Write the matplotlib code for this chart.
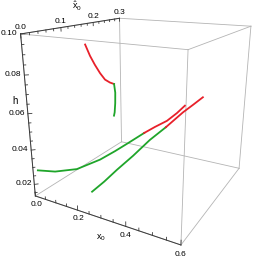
import numpy as np
import matplotlib
matplotlib.use('Agg')
import matplotlib.pyplot as plt

plt.rcParams['font.family'] = ['Liberation Sans', 'DejaVu Sans']
plt.rcParams['mathtext.fontset'] = 'custom'
plt.rcParams['mathtext.rm'] = 'Liberation Sans'
plt.rcParams['mathtext.it'] = 'Liberation Sans:italic'

# axis ranges
x0_lim = (0.0, 0.6)
xh_lim = (0.0, 0.3)
h_lim = (0.013, 0.100)

# curve A (upper, red then green)
a_red_x0 = [0.05, 0.05, 0.05, 0.05, 0.05, 0.05, 0.05]
a_red_xh = [0.138, 0.152, 0.167, 0.184, 0.201, 0.219, 0.235]
a_red_h = [0.090, 0.083, 0.077, 0.071, 0.066, 0.063, 0.061]
a_grn_x0 = [0.05, 0.05, 0.05, 0.05, 0.05]
a_grn_xh = [0.235, 0.239, 0.238, 0.235, 0.232]
a_grn_h = [0.061, 0.055, 0.048, 0.042, 0.040]

# curve B (green then red)
b_grn_x0 = [0.012, 0.055, 0.113, 0.176, 0.217, 0.254, 0.299]
b_grn_xh = [0.006, 0.028, 0.056, 0.088, 0.109, 0.127, 0.150]
b_grn_h = [0.028, 0.026, 0.026, 0.030, 0.034, 0.038, 0.043]
b_red_x0 = [0.299, 0.330, 0.365, 0.393, 0.416]
b_red_xh = [0.150, 0.165, 0.182, 0.197, 0.208]
b_red_h = [0.043, 0.046, 0.049, 0.053, 0.057]

# curve C (green then red)
c_grn_x0 = [0.182, 0.222, 0.264, 0.315, 0.368, 0.417]
c_grn_xh = [0.055, 0.067, 0.079, 0.095, 0.110, 0.125]
c_grn_h = [0.015, 0.021, 0.028, 0.036, 0.045, 0.052]
c_red_x0 = [0.417, 0.468, 0.498, 0.527]
c_red_xh = [0.125, 0.141, 0.149, 0.158]
c_red_h = [0.052, 0.060, 0.064, 0.068]

RED = '#e8202a'
GREEN = '#1fa52a'
BOX = '#b4b4b4'
AXC = '#3a3a3a'

fig = plt.figure(figsize=(2.55, 2.56), dpi=100)
ax = fig.add_axes([0.0297, 0.0355, 1.0450, 1.0409], projection='3d')
ax.set_xlim(*x0_lim)
ax.set_ylim(*xh_lim)
ax.set_zlim(*h_lim)
ax.set_box_aspect((1, 1.0121, 1.0093))
ax.view_init(elev=18.237, azim=-60.843, roll=-0.173)
ax.set_proj_type('persp', focal_length=0.2835)
ax.set_axis_off()
ax.computed_zorder = False
# unused empty texts kept out of the way
for t in (ax.title, ax._left_title, ax._right_title):
    t.set_visible(False)
    t.set_y(0.8)
for a in (ax.xaxis, ax.yaxis, ax.zaxis):
    a.label.set_visible(False)
    a.offsetText.set_visible(False)

# box edges
xa, ya, za = x0_lim, xh_lim, h_lim
for y in ya:
    for z in za:
        ax.plot(xa, [y, y], [z, z], color=BOX, lw=0.6, zorder=1)
for x in xa:
    for z in za:
        ax.plot([x, x], ya, [z, z], color=BOX, lw=0.6, zorder=1)
for x in xa:
    for y in ya:
        ax.plot([x, x], [y, y], za, color=BOX, lw=0.6, zorder=1)

# axis edges
ax.plot(xa, [0, 0], [za[0], za[0]], color=AXC, lw=0.7, zorder=2)
ax.plot([0, 0], ya, [za[1], za[1]], color=AXC, lw=0.7, zorder=2)
ax.plot([0, 0], [0, 0], za, color=AXC, lw=0.7, zorder=2)

# h ticks on left edge
for v in np.arange(0.015, 0.1001, 0.005):
    major = abs(v / 0.02 - round(v / 0.02)) < 1e-6
    k = 0.016 if major else 0.009
    ax.plot([0, 0.6 * k], [0, 0.3 * k], [v, v], color=AXC, lw=0.6, zorder=2)
    if major:
        ax.text(-0.013, 0, v, f'{v:.2f}', ha='right', va='center', fontsize=6)

# x-hat ticks on top edge
for v in np.arange(0.0, 0.3001, 0.02):
    major = abs(v / 0.1 - round(v / 0.1)) < 1e-6
    k = 0.0019 if major else 0.0011
    ax.plot([0, 0], [v, v], [za[1], za[1] - k], color=AXC, lw=0.6, zorder=2)
    if major:
        ax.text(0, v, za[1] + 0.0015, f'{v:.1f}', ha='center', va='bottom', fontsize=6)

# x0 ticks on bottom front edge
for v in np.arange(0.0, 0.6001, 0.05):
    major = abs(v / 0.2 - round(v / 0.2)) < 1e-6
    k = 0.0025 if major else 0.0015
    ax.plot([v, v], [0, 0], [za[0], za[0] + k], color=AXC, lw=0.6, zorder=2)
    if major:
        ax.text(v, 0, za[0] - 0.005, f'{v:.1f}', ha='center', va='center', fontsize=6)

# curves
ax.plot(a_red_x0, a_red_xh, a_red_h, color=RED, lw=1.3, zorder=3)
ax.plot(a_grn_x0, a_grn_xh, a_grn_h, color=GREEN, lw=1.3, zorder=3)
ax.plot(b_grn_x0, b_grn_xh, b_grn_h, color=GREEN, lw=1.3, zorder=3)
ax.plot(b_red_x0, b_red_xh, b_red_h, color=RED, lw=1.3, zorder=3)
ax.plot(c_grn_x0, c_grn_xh, c_grn_h, color=GREEN, lw=1.3, zorder=3)
ax.plot(c_red_x0, c_red_xh, c_red_h, color=RED, lw=1.3, zorder=3)

# axis titles
fig.text(77 / 255, 1 - 6 / 256, r'$\hat{\mathrm{x}}_{0}$', ha='center', va='center', fontsize=6.5)
fig.text(15 / 255, 1 - 101 / 256, 'h', ha='center', va='center', fontsize=7)
fig.text(101 / 255, 1 - 238 / 256, r'$\mathrm{x}_{0}$', ha='center', va='center', fontsize=6.5)

fig.savefig('out.png')
